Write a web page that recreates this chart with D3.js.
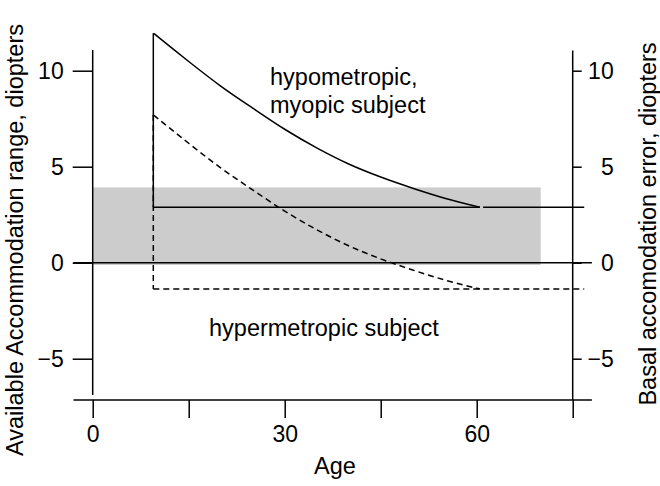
<!DOCTYPE html>
<html>
  <head>
    <meta charset="utf-8">
    <title>Accommodation range</title>
    <script src="https://d3js.org/d3.v7.min.js"></script>
    <style>
      body { margin: 0; background: #fff; }
      svg text { font-family: "Liberation Sans", Arial, Helvetica, sans-serif; fill: #000; }
      .axis path, .axis line { stroke: #000; stroke-width: 1.5; }
      .axis text { font-size: 23px; }
    </style>
  </head>
  <body>
    <script>
      // values
      const ages = [9.5, 12, 15, 20, 25, 30, 35, 40, 45, 50, 55, 60.5];
      const myopic = [11.95, 11.28, 10.48, 9.2, 8.05, 6.95, 5.98, 5.14, 4.46, 3.88, 3.36, 2.89];
      const hyperopic = [7.69, 7.02, 6.22, 4.94, 3.79, 2.69, 1.72, 0.88, 0.2, -0.38, -0.9, -1.37];
      const baseErrors = [2.89, -1.37];
      const band = [-0.12, 3.92]; // shaded comfort range
      const bandAges = [0, 70];
      const ageTicks = [0, 15, 30, 45, 60, 75];
      const ageLabels = [0, 30, 60];
      const dioptreTicks = [-5, 0, 5, 10];

      const w = 660, h = 486;

      const x = d3.scaleLinear().domain([0, 75]).range([92.7, 572.7]);
      const y = d3.scaleLinear().domain([0, 10]).range([262.7, 70.7]);

      const svg = d3.select('body').append('svg')
                    .attr('width', w)
                    .attr('height', h);

      svg.append('rect')
         .attr('x', x(bandAges[0]))
         .attr('y', y(band[1]))
         .attr('width', x(bandAges[1]) - x(bandAges[0]))
         .attr('height', y(band[0]) - y(band[1]))
         .attr('fill', '#cccccc');

      const seg = (x1, y1, x2, y2, dash) => svg.append('line')
         .attr('x1', x(x1)).attr('y1', y(y1))
         .attr('x2', x(x2)).attr('y2', y(y2))
         .attr('stroke', '#000')
         .attr('stroke-width', 1.5)
         .attr('stroke-dasharray', dash || null);

      // zero line and x axis line span the full plot region
      seg(-3, 0, 78, 0);
      seg(-3, -7.15, 78, -7.15);

      const line = d3.line()
                     .x((d, i) => x(ages[i]))
                     .y(d => y(d))
                     .curve(d3.curveMonotoneX);

      svg.append('path')
         .attr('d', line(myopic))
         .attr('fill', 'none')
         .attr('stroke', '#000')
         .attr('stroke-width', 1.5);

      svg.append('path')
         .attr('d', line(hyperopic))
         .attr('fill', 'none')
         .attr('stroke', '#000')
         .attr('stroke-width', 1.5)
         .attr('stroke-dasharray', '6,4');

      // basal error levels
      seg(ages[0] - 0.03, myopic[0], ages[0] - 0.03, baseErrors[0]);
      seg(ages[0] - 0.03, baseErrors[0], 60.5, baseErrors[0]);
      seg(61, baseErrors[0], 76.8, baseErrors[0]);
      seg(ages[0] - 0.03, hyperopic[0], ages[0] - 0.03, baseErrors[1], '6,4');
      seg(ages[0] - 0.03, baseErrors[1], 76.8, baseErrors[1], '6,4');

      // axes
      const yLeft = svg.append('g')
         .attr('class', 'axis')
         .attr('transform', `translate(${x(0)},0)`)
         .call(d3.axisLeft(y).tickValues(dioptreTicks).tickSize(20).tickPadding(9));
      yLeft.select('.domain').remove();
      seg(0, 11.08, 0, -6.89);

      const yRight = svg.append('g')
         .attr('class', 'axis')
         .attr('transform', `translate(${x(75)},0)`)
         .call(d3.axisRight(y).tickValues(dioptreTicks).tickSize(9));
      yRight.select('.domain').remove();
      yRight.selectAll('text').attr('text-anchor', 'end').attr('x', 41);
      seg(75, 11.05, 75, -7.15);

      const xAxis = svg.append('g')
         .attr('class', 'axis')
         .attr('transform', `translate(0,${y(-7.15)})`)
         .call(d3.axisBottom(x).tickValues(ageTicks).tickSize(18).tickPadding(8)
                 .tickFormat(d => ageLabels.includes(d) ? d : ''));
      xAxis.select('.domain').remove();

      // titles
      svg.append('text')
         .attr('x', 335).attr('y', 474)
         .attr('text-anchor', 'middle')
         .style('font-size', '23.5px')
         .text('Age');

      svg.append('text')
         .attr('transform', 'translate(23,240) rotate(-90)')
         .attr('text-anchor', 'middle')
         .style('font-size', '23.5px')
         .text('Available Accommodation range, diopters');

      svg.append('text')
         .attr('transform', 'translate(656,224) rotate(-90)')
         .attr('text-anchor', 'middle')
         .style('font-size', '23.5px')
         .text('Basal accomodation error, diopters');

      // annotations
      svg.append('text').attr('x', 270).attr('y', 85).style('font-size', '23.5px').text('hypometropic,');
      svg.append('text').attr('x', 270).attr('y', 113).style('font-size', '23.5px').text('myopic subject');
      svg.append('text').attr('x', 209).attr('y', 336).style('font-size', '23.5px').text('hypermetropic subject');
    </script>
  </body>
</html>
